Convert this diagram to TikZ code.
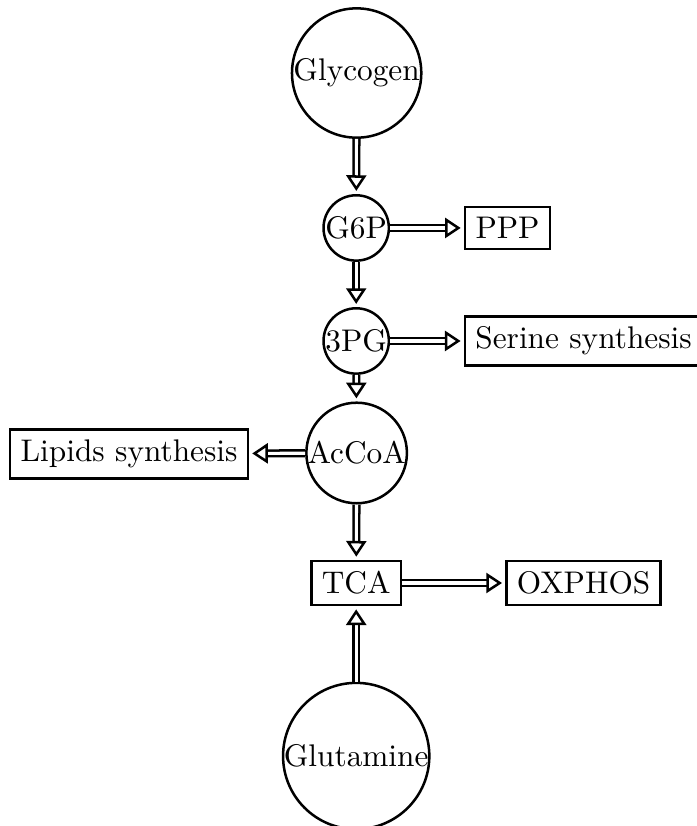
\documentclass[tikz,border=0pt]{standalone}
\usetikzlibrary{arrows.meta}
\begin{document}
\begin{tikzpicture}[thick,
  metab/.style={draw, circle, inner sep=0pt},
  path/.style={draw, rectangle},
  flux/.style={double, double distance=1pt, -{Triangle[open, length=5pt, width=6.4pt]}, shorten >=1pt}]
\useasboundingbox (0,0) rectangle (7.816,-9.276);
\node[metab] (glycogen) at (4.005, -0.820) {Glycogen};
\node[metab] (g6p) at (4.0, -2.560) {G6P};
\node[path] (ppp) at (5.699, -2.560) {PPP};
\node[metab] (3pg) at (4.0, -3.829) {3PG};
\node[path] (serine) at (6.553, -3.829) {Serine synthesis};
\node[metab] (accoa) at (4.005, -5.087) {AcCoA};
\node[path] (lipids) at (1.449, -5.098) {Lipids synthesis};
\node[path] (tca) at (4.0, -6.547) {TCA};
\node[path] (oxphos) at (6.553, -6.547) {OXPHOS};
\node[metab] (glutamine) at (4.0, -8.490) {Glutamine};
\draw[flux] (glycogen) -- (g6p);
\draw[flux] (g6p) -- (ppp);
\draw[flux] (g6p) -- (3pg);
\draw[flux] (3pg) -- (serine);
\draw[flux] (3pg) -- (accoa);
\draw[flux] (accoa) -- (lipids);
\draw[flux] (accoa) -- (tca);
\draw[flux] (tca) -- (oxphos);
\draw[flux] (glutamine) -- (tca);
\end{tikzpicture}
\end{document}
